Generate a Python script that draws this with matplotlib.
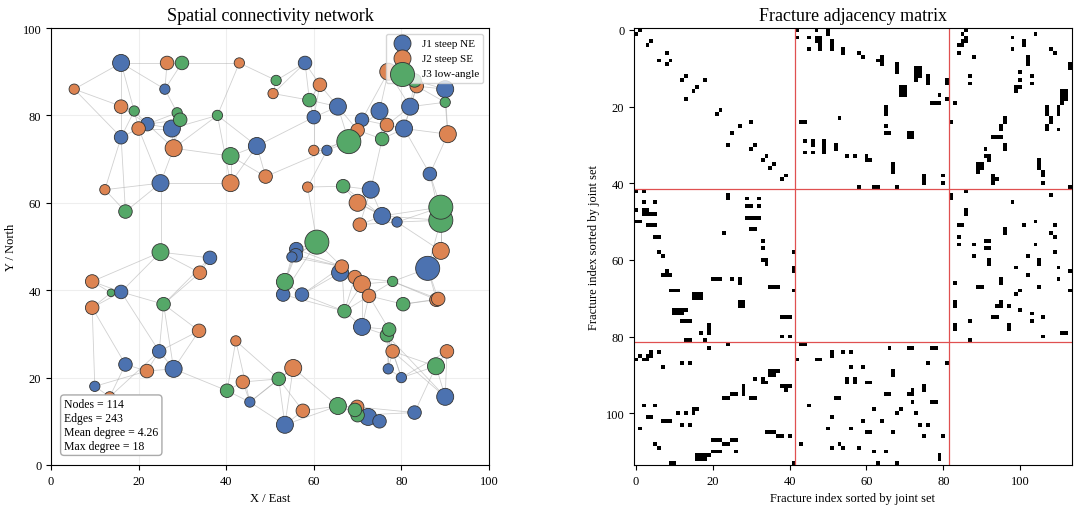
import numpy as np
import matplotlib.pyplot as plt

plt.rcParams['font.family'] = ['Liberation Serif', 'DejaVu Serif']

# node positions (x, y) and size class per joint set
j1_x = [16, 26, 16, 22, 27.6, 25, 47, 58, 60, 65.5, 71, 75, 82, 80.6, 90, 73, 75.6, 79, 86.5, 86,
        56, 55.9, 55, 36.3, 16, 57.3, 53, 66, 71, 17, 24.7, 28, 10, 45.4, 53.4, 72.4, 75, 83, 80,
        77, 90, 63]
j1_y = [92, 86, 75, 78, 77, 64.5, 73, 92, 79.6, 82, 79, 81, 82, 77, 86, 63, 57, 55.6, 66.6, 45,
        49.4, 48, 47.6, 47.4, 39.6, 39, 39, 44, 31.6, 23, 26, 22, 18, 14.4, 9.2, 11, 10, 12, 20,
        22, 15.6, 72]
j1_s = [3, 1, 2, 2, 3, 3, 3, 2, 2, 3, 2, 3, 3, 3, 3, 3, 3, 1, 2, 4,
        2, 2, 1, 2, 2, 2, 2, 3, 3, 2, 2, 3, 1, 1, 3, 3, 2, 2, 1,
        1, 3, 1]

j2_x = [5.3, 26.5, 43, 16, 20, 28, 12.3, 41, 49, 50.7, 61.4, 60, 70, 76.7, 77, 83.5, 90.6, 58.6,
        70, 70.5, 89, 66.4, 69.4, 71, 72.6, 9.4, 9.4, 33.8, 42.2, 88.4, 88, 78, 90.4, 21.9, 13.4,
        43.8, 55.3, 57.5, 69.9, 34]
j2_y = [86, 92, 92, 82, 77, 72.5, 63, 64.5, 66, 85, 87, 72, 76.6, 77.8, 90, 86.7, 75.7, 63.6,
        60, 55, 49, 45.4, 43, 41.4, 38.7, 42, 36, 30.7, 28.4, 38, 37.8, 26, 26, 21.5, 15.6,
        19, 22.2, 12.4, 13.3, 44]
j2_s = [1, 2, 1, 2, 2, 3, 1, 3, 2, 1, 2, 1, 2, 2, 3, 2, 3, 1,
        3, 2, 3, 2, 2, 3, 2, 2, 2, 2, 1, 2, 2, 2, 2, 2, 1,
        2, 3, 2, 2, 2]

j3_x = [29.9, 51.4, 19, 28.8, 29.5, 38, 59, 68, 75.6, 90, 41, 66.7, 89, 89, 17, 60.7, 25, 53.4,
        78, 25.7, 13.7, 67, 76.7, 77.2, 80.4, 87.9, 40.2, 52, 65.5, 69.4, 70, 83]
j3_y = [92, 88, 81, 80.6, 79, 80, 83.5, 74, 74.6, 83, 70.7, 63.8, 59, 56, 58, 51, 48.7, 41.9,
        42, 36.8, 39.4, 35.2, 29.7, 31, 36.8, 22.6, 17, 19.7, 13.5, 12.6, 11.4, 88]
j3_s = [2, 1, 1, 1, 2, 1, 2, 4, 2, 1, 3, 2, 4, 4, 2, 4, 3, 3,
        1, 2, 0, 2, 2, 2, 2, 3, 2, 2, 3, 2, 2, 2]

labels = ['J1 steep NE', 'J2 steep SE', 'J3 low-angle']
colors = ['#4c72b0', '#dd8452', '#55a868']
stats_text = 'Nodes = 114\nEdges = 243\nMean degree = 4.26\nMax degree = 18'
size_map = {0: 30, 1: 55, 2: 95, 3: 150, 4: 300}

# index order inside each set: J1 by north, J2 by east, J3 by size class
o1 = np.arange(len(j1_x))
o2 = np.argsort(j2_x, kind='stable')
o3 = np.lexsort((j3_y, j3_s))
xs = np.concatenate([np.array(j1_x)[o1], np.array(j2_x)[o2], np.array(j3_x)[o3]])
ys = np.concatenate([np.array(j1_y)[o1], np.array(j2_y)[o2], np.array(j3_y)[o3]])
ss = np.concatenate([np.array(j1_s)[o1], np.array(j2_s)[o2], np.array(j3_s)[o3]])
groups = np.array([0] * len(j1_x) + [1] * len(j2_x) + [2] * len(j3_x))
n = len(xs)

# edges: fractures of different sets intersect, so link each to its nearest
# neighbours from the other joint sets (plus a few same-set links for J1)
d = np.hypot(xs[:, None] - xs[None, :], ys[:, None] - ys[None, :])
np.fill_diagonal(d, np.inf)
adj = np.zeros((n, n), dtype=int)
for i in range(n):
    other = np.where(groups != groups[i], d[i], np.inf)
    k = 2 + (ss[i] + 1) // 2
    for j in np.argsort(other)[:k]:
        adj[i, j] = adj[j, i] = 1
    if groups[i] == 0 and i % 3 == 0:
        same = np.where(groups == 0, d[i], np.inf)
        j = np.argsort(same)[0]
        adj[i, j] = adj[j, i] = 1

fig = plt.figure(figsize=(10.8, 5.1), dpi=100)
ax1 = fig.add_axes([51 / 1080, 44 / 510, 438 / 1080, 437 / 510])
ax2 = fig.add_axes([634 / 1080, 44 / 510, 438 / 1080, 437 / 510])

for i in range(n):
    for j in range(i + 1, n):
        if adj[i, j]:
            ax1.plot([xs[i], xs[j]], [ys[i], ys[j]], color='#aaaaaa', lw=0.6, alpha=0.55, zorder=1)
for g in range(3):
    m = groups == g
    ax1.scatter(xs[m], ys[m], s=[size_map[v] for v in ss[m]], c=colors[g],
                edgecolors='#333333', linewidths=0.6, zorder=3, label=labels[g])
ax1.set_xlim(0, 100)
ax1.set_ylim(0, 100)
ax1.grid(True, color='#eeeeee', lw=0.8)
ax1.set_axisbelow(True)
ax1.set_title('Spatial connectivity network', fontsize=13)
ax1.set_xlabel('X / East', fontsize=9)
ax1.set_ylabel('Y / North', fontsize=9)
ax1.tick_params(labelsize=9)
leg = ax1.legend(loc='upper right', fontsize=8, markerscale=1.0)
for h, s in zip(leg.legend_handles, [150, 150, 300]):
    h.set_sizes([s])
ax1.text(3, 3, stats_text, fontsize=8.5, va='bottom', ha='left',
         bbox=dict(boxstyle='round,pad=0.3', fc='white', ec='#aaaaaa'), zorder=5)

ax2.imshow(adj, cmap='gray_r', interpolation='nearest', aspect='auto')
b1 = len(j1_x) - 0.5
b2 = len(j1_x) + len(j2_x) - 0.5
for b in (b1, b2):
    ax2.axhline(b, color='#e05050', lw=0.9)
    ax2.axvline(b, color='#e05050', lw=0.9)
ax2.set_title('Fracture adjacency matrix', fontsize=13)
ax2.set_xlabel('Fracture index sorted by joint set', fontsize=9)
ax2.set_ylabel('Fracture index sorted by joint set', fontsize=9)
ax2.tick_params(labelsize=9)

fig.savefig('out.png', dpi=100)
